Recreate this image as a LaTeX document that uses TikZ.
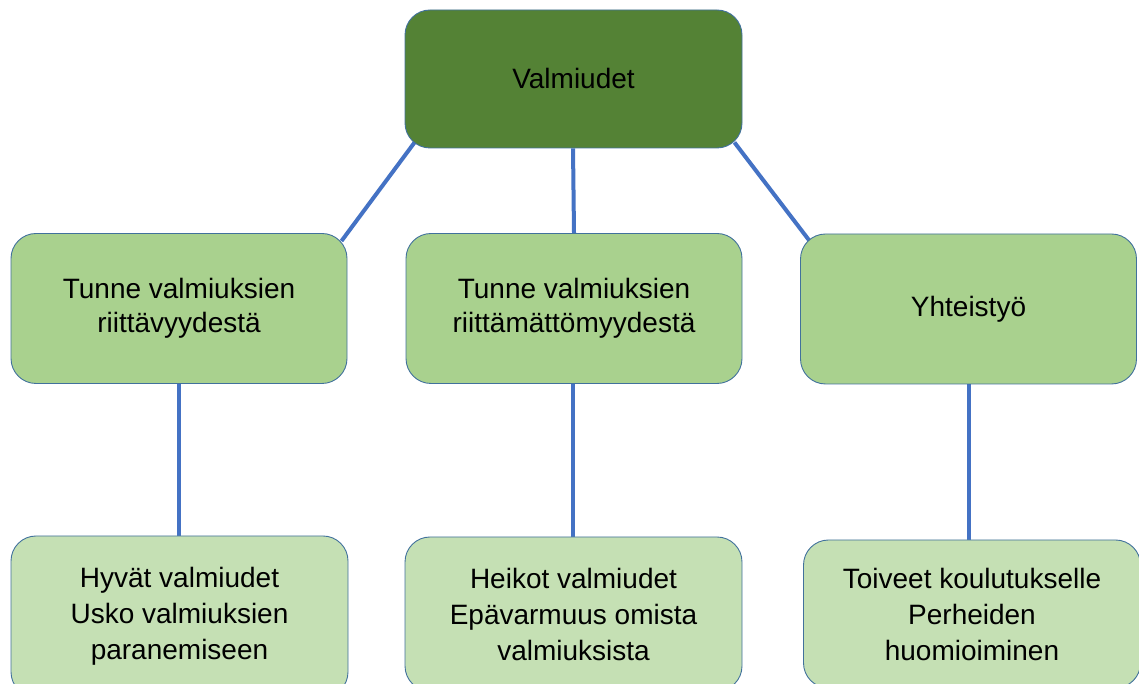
\documentclass[tikz,border=0pt]{standalone}
\usepackage{fontspec}
\setmainfont{Liberation Sans}
\usetikzlibrary{backgrounds}
\definecolor{topfill}{HTML}{548235}
\definecolor{midfill}{HTML}{A9D18E}
\definecolor{lowfill}{HTML}{C5E0B4}
\definecolor{boxline}{HTML}{41719C}
\definecolor{conncol}{HTML}{4472C4}
\tikzset{
  box/.style={draw=boxline, line width=0.9pt, rounded corners=25pt, align=center, inner sep=0pt},
  topbox/.style={box, fill=topfill, minimum width=337pt, minimum height=138pt, font=\fontsize{28}{34}\selectfont},
  midbox/.style={box, fill=midfill, minimum width=336pt, minimum height=150pt, font=\fontsize{28}{34}\selectfont},
  lowbox/.style={box, fill=lowfill, minimum width=337pt, font=\fontsize{28}{36}\selectfont},
  conn/.style={draw=conncol, line width=4pt}
}
\begin{document}
\begin{tikzpicture}[x=1pt,y=1pt]
\useasboundingbox (0,0) rectangle (1139,684);
\node[topbox] (top) at (573.5,605) {Valmiudet};
\node[midbox] (m1) at (179,375.5) {Tunne valmiuksien\\riittävyydestä};
\node[midbox] (m2) at (574,375.5) {Tunne valmiuksien\\riittämättömyydestä};
\node[midbox] (m3) at (968.5,375) {Yhteistyö};
\node[lowbox, minimum height=161pt] (b1) at (179.5,67.5) {Hyvät valmiudet\\Usko valmiuksien\\paranemiseen};
\node[lowbox, minimum height=154pt] (b2) at (573.5,70) {Heikot valmiudet\\Epävarmuus omista\\valmiuksista};
\node[lowbox, minimum height=148pt] (b3) at (972,70) {Toiveet koulutukselle\\Perheiden\\huomioiminen};
\begin{scope}[on background layer]
\draw[conn] ([xshift=10pt,yshift=6pt]top.south west) -- ([xshift=-6pt,yshift=-8pt]m1.north east);
\draw[conn] ([xshift=-0.5pt]top.south) -- (m2.north);
\draw[conn] ([xshift=-8pt,yshift=6pt]top.south east) -- ([xshift=10pt,yshift=-8pt]m3.north west);
\draw[conn] (m1.south) -- (m1.south |- b1.north);
\draw[conn] ([xshift=-1pt]m2.south) -- ([xshift=-1pt]m2.south |- b2.north);
\draw[conn] (m3.south) -- (m3.south |- b3.north);
\end{scope}
\end{tikzpicture}
\end{document}
